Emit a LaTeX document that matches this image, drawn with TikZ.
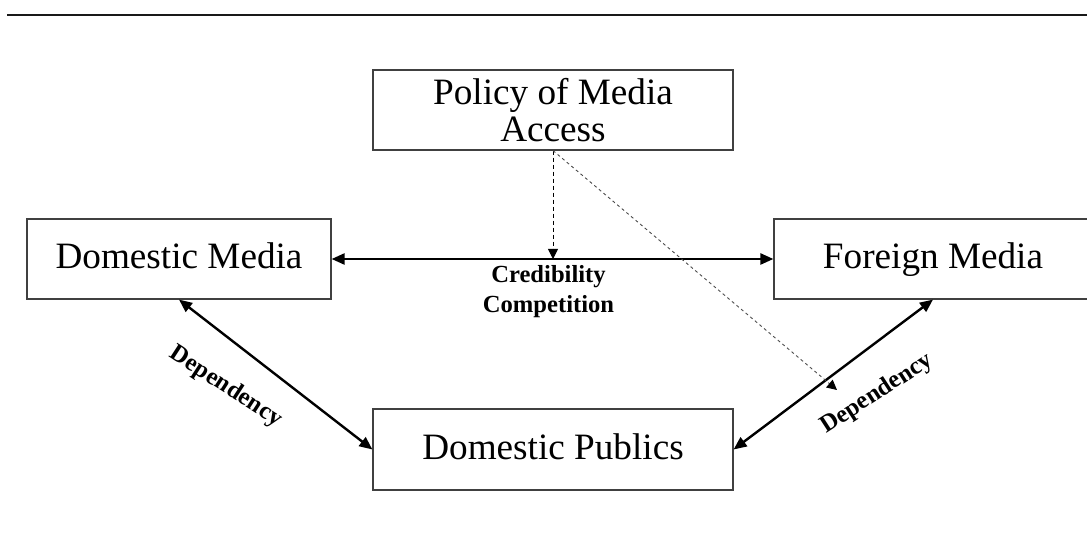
\documentclass[tikz,border=0pt]{standalone}
\usepackage{fontspec}
\setmainfont{Liberation Serif}
\usetikzlibrary{arrows.meta}

\begin{document}
\begin{tikzpicture}[x=0.5pt,y=-0.5pt,line cap=butt,
    box/.style={draw=black!75,line width=0.6pt,inner sep=0pt,minimum height=40pt,
        font=\fontsize{18.6}{18.6}\selectfont,align=center},
    onebox/.style={box,text height=13pt,text depth=3pt},
    link/.style={line width=1.2pt,{Triangle[length=6.5pt,width=5.5pt]}-{Triangle[length=6.5pt,width=5.5pt]}},
    lab/.style={font=\bfseries\fontsize{12.3}{15}\selectfont,align=center}]

    \useasboundingbox (0,0) rectangle (1087,533);
    \draw [line width=1.1pt,color=black!90] (7,15) -- (1087,15);

    \node [box,minimum width=180pt] (policy) at (553,110) {Policy of Media\\Access};
    \node [onebox,minimum width=152pt] (dmedia) at (179,259) {Domestic Media};
    \node [onebox,minimum width=159pt] (fmedia) at (933,259) {Foreign Media};
    \node [onebox,minimum width=180pt,minimum height=40.5pt] (dpublics) at (553,449.5) {Domestic Publics};

    \coordinate (hit) at (553,259);
    \coordinate (dtip) at (837,390);

    \draw [link] (dmedia.east) -- (fmedia.west);
    \draw [link] (dmedia.south) -- (dpublics.west);
    \draw [link] (dpublics.east) -- (fmedia.south);

    \draw [line width=0.45pt,dash pattern=on 2pt off 1.5pt,-{Triangle[length=5pt,width=5pt]}] (policy.south) -- (hit);
    \draw [line width=0.45pt,color=black!70,dash pattern=on 1.5pt off 1.5pt,-{Triangle[length=5pt,width=5pt,fill=black,color=black]}] (policy.south) -- (dtip);

    \node [lab] (cred) at (548.5,292) {Credibility\\Competition};
    \node [lab,rotate=-33] (depl) at (226,387) {Dependency};
    \node [lab,rotate=33] (depr) at (877,394) {Dependency};
\end{tikzpicture}
\end{document}
